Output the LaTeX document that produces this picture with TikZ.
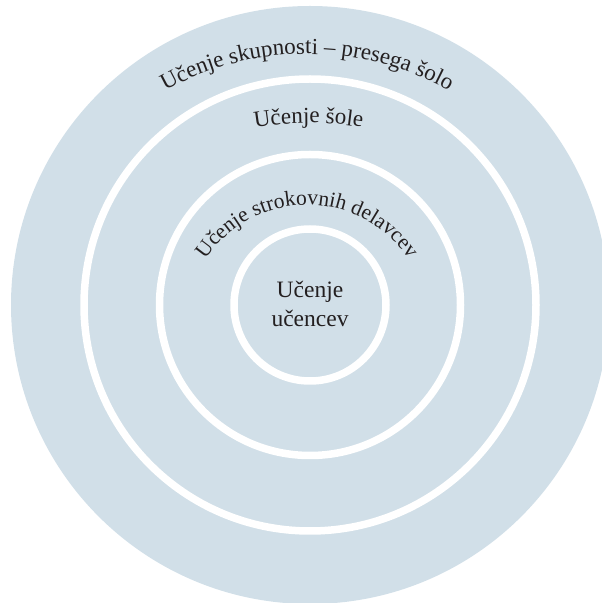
\documentclass[tikz,border=0pt]{standalone}
\usepackage{fontspec}
\setmainfont{Liberation Serif}
\usetikzlibrary{decorations.text,calc}
\definecolor{ringblue}{HTML}{D1DFE8}
\definecolor{inkc}{HTML}{231F20}
\tikzset{
  ring/.style={draw=white, line width=7.5pt},
  arctext/.style={decorate, decoration={text along path, text align=center, text color=inkc, text={#1}}},
  plain/.style={text=inkc, font=\fontsize{23.5}{28}\selectfont, inner sep=0pt}
}
\begin{document}
\begin{tikzpicture}[x=1pt,y=1pt]
\useasboundingbox (0,0) rectangle (602,603);
\clip (0,0) rectangle (602,603);
\coordinate (C) at (310,298);
\fill[ringblue] (C) circle[radius=299];
\draw[ring] (C) circle[radius=226];
\draw[ring] (C) circle[radius=150.5];
\draw[ring] (C) circle[radius=76];
% outer curved label
\coordinate (co) at (307,257);
\path[arctext={|\fontsize{23}{27}\selectfont|Učenje skupnosti – presega šolo}]
  ($(co)+(125:292)$) arc[start angle=125, end angle=55, radius=292];
% school label
\coordinate (cs) at (308.5,150);
\path[arctext={|\fontsize{23}{27}\selectfont|Učenje šole}]
  ($(cs)+(100:330)$) arc[start angle=100, end angle=80, radius=330];
% staff label
\coordinate (cm) at (307,276);
\path[arctext={|\fontsize{21.5}{25}\selectfont|Učenje strokovnih delavcev}]
  ($(cm)+(170:122)$) arc[start angle=170, end angle=10, radius=122];
% inner label
\node[plain, anchor=base] (l1) at (310,305) {Učenje};
\node[plain, anchor=base] (l2) at (310,276) {učencev};
\end{tikzpicture}
\end{document}
